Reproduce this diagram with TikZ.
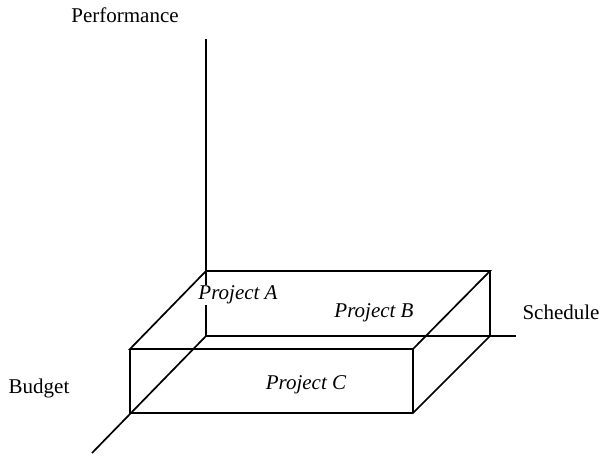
\documentclass[tikz,border=0pt]{standalone}
\usepackage{fontspec}
\setmainfont{Liberation Serif}
\begin{document}
\begin{tikzpicture}[x=1pt,y=-1pt,
  axis/.style={line width=1.3pt},
  edge/.style={line width=1.7pt,line join=miter},
  axislabel/.style={font=\fontsize{21}{24}\selectfont,inner sep=0pt},
  projlabel/.style={font=\fontsize{21}{24}\selectfont\itshape,inner sep=1pt}]
\useasboundingbox (0,0) rectangle (600,456);
% axes
\coordinate (O) at (206,336);
\coordinate (perfEnd) at (206,39);
\coordinate (schedEnd) at (516,336);
\coordinate (budgEnd) at (92,453);
% box corners: top face and bottom face
\coordinate (TBL) at (206,271);
\coordinate (TBR) at (490,271);
\coordinate (TFR) at (413,349);
\coordinate (TFL) at (130,349);
\coordinate (BBR) at (490,336);
\coordinate (BFR) at (413,413);
\coordinate (BFL) at (130,413);
\draw[axis] (O) -- (perfEnd);
\draw[axis] (O) -- (schedEnd);
\draw[edge] (O) -- (budgEnd);
% labels
\node[axislabel] (perf) at (125,15) {Performance};
\node[axislabel] (sched) at (561,312) {Schedule};
\node[axislabel] (budg) at (39,388) {Budget};
\node[projlabel,fill=white] (pa) at (238,295) {Project A};
\node[projlabel] (pb) at (374,313) {Project B};
\node[projlabel] (pc) at (306,385) {Project C};
% box
\draw[edge] (TBL) -- (TBR) -- (TFR) -- (TFL) -- cycle;
\draw[edge] (TBR) -- (BBR) -- (BFR) -- (BFL) -- (TFL);
\draw[edge] (TFR) -- (BFR);
\end{tikzpicture}
\end{document}
